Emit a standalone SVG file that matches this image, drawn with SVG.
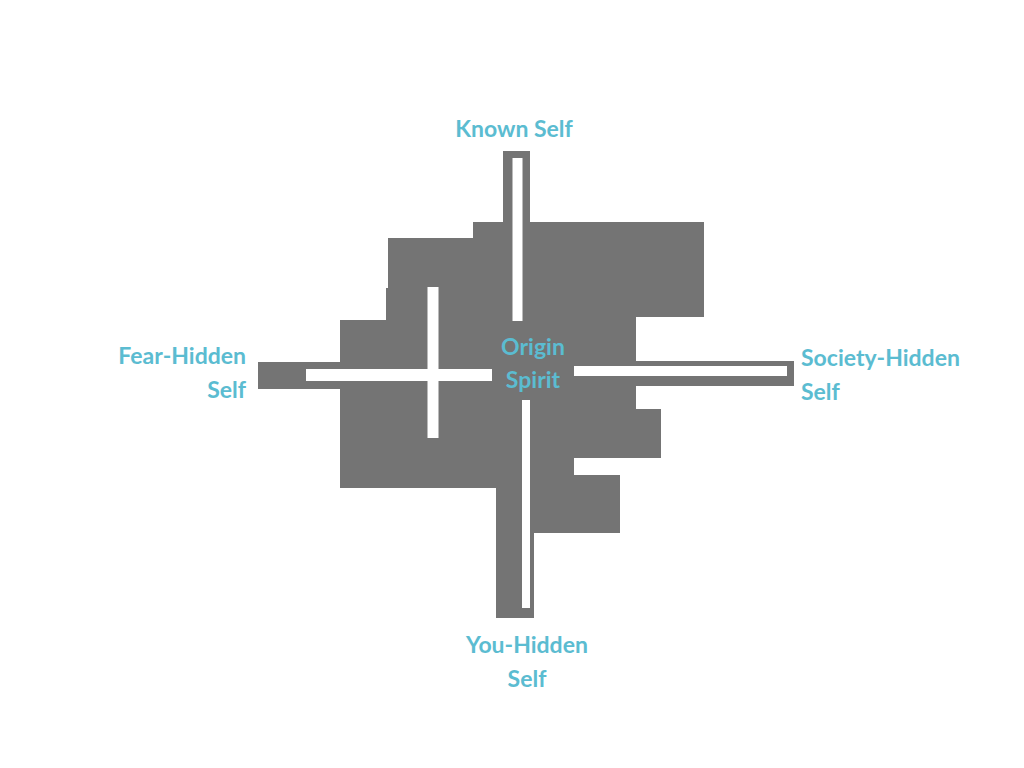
<svg xmlns="http://www.w3.org/2000/svg" width="1024" height="768" viewBox="0 0 1024 768">
<style>
.g{fill:#747474}.w{fill:#fff}
text{font-family:Lato,"Open Sans","Liberation Sans",sans-serif;font-weight:bold;font-size:23px;fill:#5BBCD1}
</style>
<rect width="1024" height="768" fill="#fff"/>
<g id="shape">
<polygon class="g" points="473,222 704,222 704,317 636,317 636,361 794,361 794,386 636,386 636,409 661,409 661,458 574,458 574,475 620,475 620,533 534,533 534,618 496,618 496,488 340,488 340,389 258,389 258,362 340,362 340,320 386,320 386,288 388,288 388,238 473,238"/>
<rect class="g" x="503" y="151" width="27" height="75"/>
<rect class="w" x="512.5" y="158" width="10" height="163"/>
<rect class="w" x="306" y="369" width="186" height="12"/>
<rect class="w" x="427.5" y="287" width="11" height="151"/>
<rect class="w" x="574" y="366" width="213" height="10"/>
<rect class="w" x="522" y="400" width="8" height="208"/>
</g>
<g id="labels">
<text x="514" y="137" text-anchor="middle">Known Self</text>
<text x="246" y="364" text-anchor="end">Fear-Hidden</text>
<text x="246" y="398" text-anchor="end">Self</text>
<text x="801" y="366">Society-Hidden</text>
<text x="801" y="400">Self</text>
<text x="527" y="653" text-anchor="middle">You-Hidden</text>
<text x="527" y="687" text-anchor="middle">Self</text>
<text x="533" y="355" text-anchor="middle">Origin</text>
<text x="533" y="388" text-anchor="middle">Spirit</text>
</g>
</svg>
